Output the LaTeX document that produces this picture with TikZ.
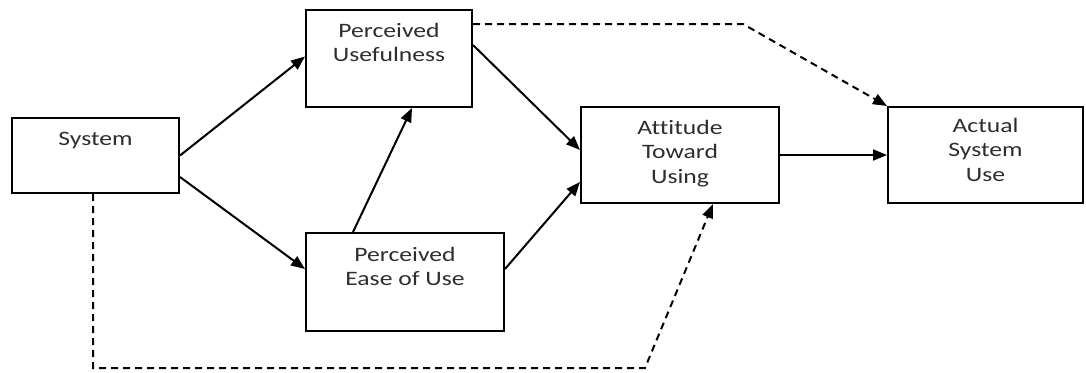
\documentclass[tikz,border=0pt]{standalone}
\usepackage{fontspec}
\setmainfont{Carlito}[FakeStretch=1.25, Ligatures={NoCommon}]
\usetikzlibrary{arrows.meta}
\begin{document}
\begin{tikzpicture}[x=1pt,y=-1pt,
  box/.style={draw=black, line width=2pt, fill=white, inner sep=0pt},
  lbl/.style={anchor=north, align=center, inner sep=0pt, text=black!82,
    font=\fontsize{20.5}{24.5}\selectfont},
  conn/.style={line width=2pt, -{Triangle[length=14pt,width=11pt]}},
  dconn/.style={conn, dash pattern=on 7pt off 5pt}]
  \useasboundingbox (0,0) rectangle (1086,372);

  % boxes
  \node[box, minimum width=167pt, minimum height=75pt] (sys) at (95.5,155.5) {};
  \node[box, minimum width=166pt, minimum height=97pt] (pu) at (389,58.5) {};
  \node[box, minimum width=198pt, minimum height=98pt] (peou) at (405,282) {};
  \node[box, minimum width=198pt, minimum height=96pt] (atu) at (680,155) {};
  \node[box, minimum width=195pt, minimum height=96pt] (asu) at (985.5,155) {};

  % box texts
  \node[lbl] (sysT) at (95.5,132) {System};
  \node[lbl] (puT) at (389,23) {Perceived\\Usefulness};
  \node[lbl] (peouT) at (405,247) {Perceived\\Ease of Use};
  \node[lbl] (atuT) at (680,120) {Attitude\\Toward\\Using};
  \node[lbl] (asuT) at (985.5,118) {Actual\\System\\Use};

  % solid connectors
  \draw[conn] (sys.east) -- ([yshift=2pt]pu.west);
  \draw[conn] ([yshift=-21.5pt]sys.east) -- ([yshift=13pt]peou.west);
  \draw[conn] ([xshift=-52pt]peou.north) -- ([xshift=23pt]pu.south);
  \draw[conn] ([yshift=13.5pt]pu.east) -- ([yshift=5pt]atu.west);
  \draw[conn] ([yshift=13pt]peou.east) -- ([yshift=-27pt]atu.west);
  \draw[conn] (atu.east) -- (asu.west);

  % dashed connectors
  \coordinate (topbend) at (743,24);
  \coordinate (botleft) at (93,368);
  \coordinate (botright) at (645,368);
  \draw[dconn] ([yshift=34.5pt]pu.east) -- (topbend) -- (asu.north west);
  \draw[dconn] ([xshift=-2.5pt]sys.south) -- (botleft) -- (botright)
    -- ([xshift=33pt]atu.south);
\end{tikzpicture}
\end{document}
